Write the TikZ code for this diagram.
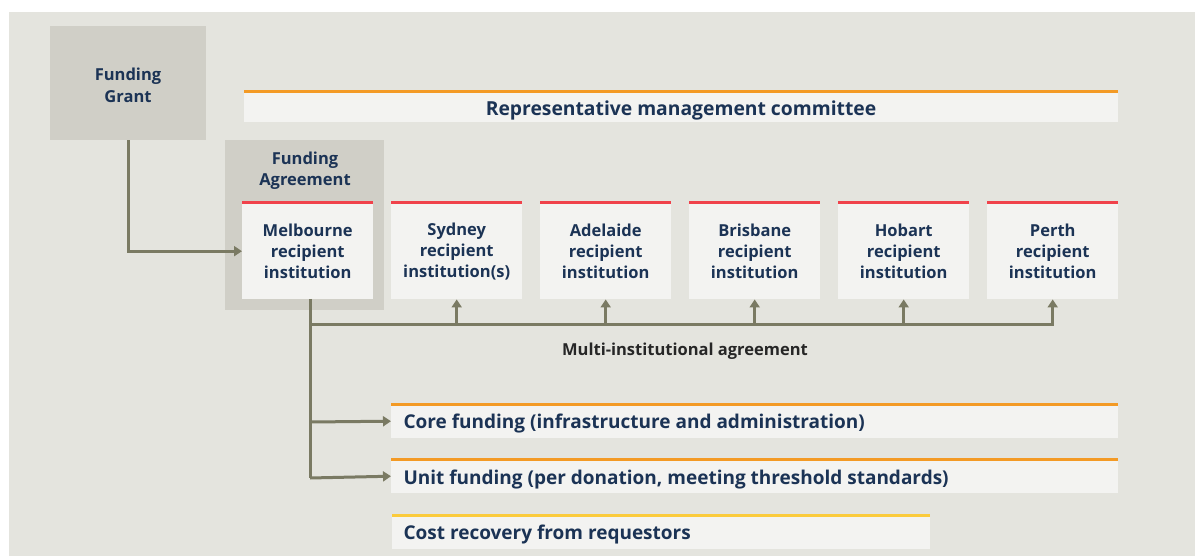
\documentclass[tikz,border=0pt]{standalone}
\usepackage{fontspec}
\setmainfont{Open Sans}
\usetikzlibrary{arrows.meta}
\definecolor{pagebg}{HTML}{E4E4DE}
\definecolor{darkbox}{HTML}{D0CFC7}
\definecolor{lightbox}{HTML}{F3F3F1}
\definecolor{navytext}{HTML}{1B3355}
\definecolor{linkgrey}{HTML}{7A7A63}
\definecolor{topred}{HTML}{F0424B}
\definecolor{toporange}{HTML}{F39A25}
\definecolor{topyellow}{HTML}{FBCB3C}
\tikzset{
  darkpanel/.style={fill=darkbox,anchor=north west,inner sep=0pt},
  inst/.style={fill=lightbox,anchor=north west,minimum width=131pt,minimum height=96pt,
    inner sep=0pt,align=center,text=navytext,font=\bfseries\fontsize{16.5}{21}\selectfont},
  bar/.style={fill=lightbox,anchor=north west,minimum height=34pt,inner sep=0pt},
  bartext/.style={anchor=west,text=navytext,font=\bfseries\fontsize{19}{21}\selectfont},
  link/.style={draw=linkgrey,line width=3pt},
  linkarrow/.style={link,-{Triangle[width=10pt,length=8pt]}}
}
\begin{document}
\begin{tikzpicture}[x=1pt,y=-1pt]
\useasboundingbox (0,0) rectangle (1195,556);
\fill[pagebg] (9,12) rectangle (1195,556);
% grant and agreement panels
\node [darkpanel,minimum width=156pt,minimum height=114pt,name=grant] at (50,26){};
\node [text=navytext,font=\bfseries\fontsize{16.5}{22}\selectfont,align=center,name=grantlbl] at (128,85){Funding\\Grant};
\node [darkpanel,minimum width=159pt,minimum height=170pt,name=agree] at (225,140){};
\node [text=navytext,font=\bfseries\fontsize{16.5}{21}\selectfont,align=center,name=agreelbl] at (305,171){Funding\\Agreement};
% committee
\node [bar,minimum width=874pt,minimum height=30pt,name=comm] at (244,92){};
\node [text=navytext,font=\bfseries\fontsize{19.3}{21}\selectfont,name=commlbl] at (681,110){Representative management committee};
\draw[toporange,line width=3pt] (comm.north west)--(comm.north east);
% institutions
\node [inst,name=mel] at (242,203){Melbourne\\recipient\\institution};
\node [inst,name=syd] at (391,203){Sydney\\recipient\\institution(s)};
\node [inst,name=ade] at (540,203){Adelaide\\recipient\\institution};
\node [inst,name=bri] at (689,203){Brisbane\\recipient\\institution};
\node [inst,name=hob] at (838,203){Hobart\\recipient\\institution};
\node [inst,name=per] at (987,203){Perth\\recipient\\institution};
\foreach \n in {mel,syd,ade,bri,hob,per}
  \draw[topred,line width=3pt] (\n.north west)--(\n.north east);
% funding streams
\node [bar,minimum width=727pt,name=core] at (391,404){};
\node [bartext,name=corelbl] at (400,424){Core funding (infrastructure and administration)};
\draw[toporange,line width=3pt] (core.north west)--(core.north east);
\node [bar,minimum width=727pt,name=unit] at (391,459){};
\node [bartext,name=unitlbl] at (400,480){Unit funding (per donation, meeting threshold standards)};
\draw[toporange,line width=3pt] (unit.north west)--(unit.north east);
\node [bar,minimum width=538pt,name=cost] at (392,515){};
\node [bartext,name=costlbl] at (400,535){Cost recovery from requestors};
\draw[topyellow,line width=3pt] (cost.north west)--(cost.north east);
% connectors
\coordinate (melout) at (310,299);
\coordinate (spine) at (310,325);
\draw[linkarrow] (grant.south) |- (mel.west);
\draw[link] (melout)--(310,478);
\draw[link] (spine)--(1054,325);
\foreach \n in {syd,ade,bri,hob,per}
  \draw[linkarrow] (\n.south |- spine)--(\n.south);
\draw[linkarrow] (310,422)--(core.west);
\draw[linkarrow] (310,478)--(unit.west);
\node [font=\bfseries\fontsize{16.5}{18}\selectfont,text=black!85,name=multilbl] at (685,351){Multi-institutional agreement};
\end{tikzpicture}
\end{document}
